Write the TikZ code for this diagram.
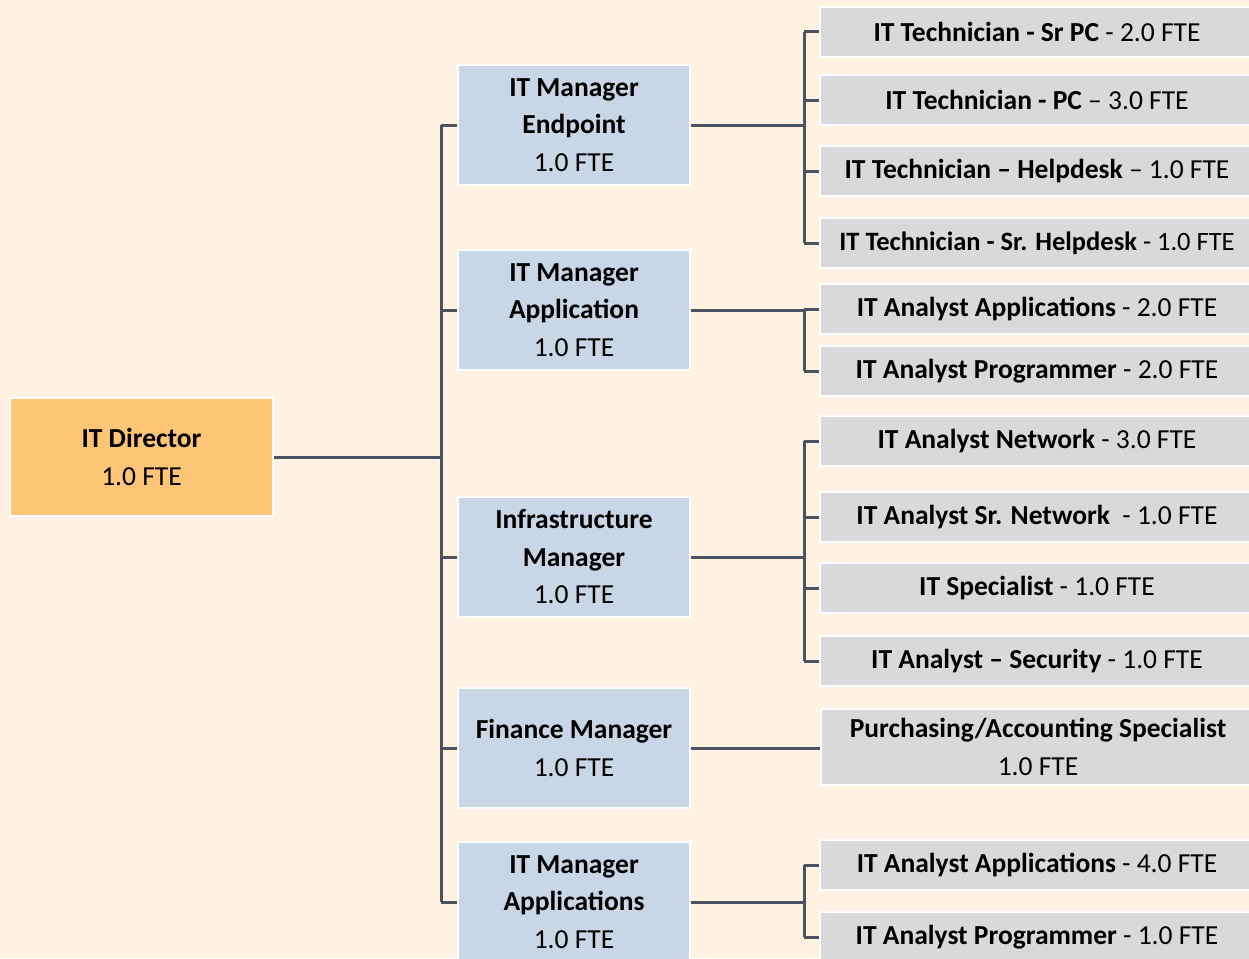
\documentclass[tikz,border=0pt]{standalone}
\usepackage{fontspec}
\setmainfont{Carlito}
\definecolor{bgc}{HTML}{FFF2E3}
\definecolor{dirc}{HTML}{FEC577}
\definecolor{mgrc}{HTML}{C9D6E5}
\definecolor{leafc}{HTML}{D9D9D9}
\definecolor{linec}{HTML}{4B5361}
\begin{document}
\begin{tikzpicture}[x=1pt,y=-1pt,
  box/.style={draw=white, line width=2pt, align=center, inner sep=0pt,
    font=\fontsize{27.5}{37.5}\selectfont, text=black},
  dirbox/.style={box, fill=dirc, minimum width=263pt, minimum height=118pt},
  mgrbox/.style={box, fill=mgrc, minimum width=232pt, minimum height=120pt},
  leafbox/.style={box, fill=leafc, minimum width=434pt, minimum height=50pt},
  conn/.style={draw=linec, line width=3pt}]
\clip (0,0) rectangle (1249,958);
\fill[bgc] (0,0) rectangle (1249,958);
\useasboundingbox (0,0) rectangle (1249,958);

\node[dirbox] (dir) at (141.5,457) {\textbf{IT Director}\\1.0 FTE};

\node[mgrbox] (ep) at (574,125) {\textbf{IT Manager}\\\textbf{Endpoint}\\1.0 FTE};
\node[mgrbox] (app) at (574,310) {\textbf{IT Manager}\\\textbf{Application}\\1.0 FTE};
\node[mgrbox] (inf) at (574,557) {\textbf{Infrastructure}\\\textbf{Manager}\\1.0 FTE};
\node[mgrbox] (fin) at (574,748) {\textbf{Finance Manager}\\1.0 FTE};
\node[mgrbox] (apps) at (574,902) {\textbf{IT Manager}\\\textbf{Applications}\\1.0 FTE};

\node[leafbox] (e1) at (1037,32) {\textbf{IT Technician - Sr PC} - 2.0 FTE};
\node[leafbox] (e2) at (1037,100) {\textbf{IT Technician - PC} – 3.0 FTE};
\node[leafbox] (e3) at (1037,171) {\textbf{IT Technician – Helpdesk} – 1.0 FTE};
\node[leafbox, font=\fontsize{26.5}{37.5}\selectfont] (e4) at (1037,243) {\textbf{IT Technician - Sr. Helpdesk} - 1.0 FTE};

\node[leafbox] (a1) at (1037,309) {\textbf{IT Analyst Applications} - 2.0 FTE};
\node[leafbox] (a2) at (1037,371) {\textbf{IT Analyst Programmer} - 2.0 FTE};

\node[leafbox] (i1) at (1037,441) {\textbf{IT Analyst Network} - 3.0 FTE};
\node[leafbox] (i2) at (1037,517) {\textbf{IT Analyst Sr. Network}\ \ - 1.0 FTE};
\node[leafbox] (i3) at (1037,588) {\textbf{IT Specialist} - 1.0 FTE};
\node[leafbox] (i4) at (1037,661) {\textbf{IT Analyst – Security} - 1.0 FTE};

\node[leafbox, minimum height=76pt] (f1) at (1038,747) {\textbf{Purchasing/Accounting Specialist}\\1.0 FTE};

\node[leafbox] (p1) at (1037,865) {\textbf{IT Analyst Applications} - 4.0 FTE};
\node[leafbox] (p2) at (1037,937) {\textbf{IT Analyst Programmer} - 1.0 FTE};

\coordinate (T) at (441,0);
\coordinate (B) at (804,0);

\draw[conn] (dir.east) -- (dir.east -| T);
\draw[conn] (ep.west -| T) -- (apps.west -| T);
\foreach \m in {ep,app,inf,fin,apps}{
  \draw[conn] (\m.west -| T) -- (\m.west);
}
% Endpoint group
\draw[conn] (ep.east) -- (ep.east -| B);
\draw[conn] (e1.west -| B) -- (e4.west -| B);
\foreach \c in {e1,e2,e3,e4}{\draw[conn] (\c.west -| B) -- (\c.west);}
% Application group
\draw[conn] (app.east) -- (app.east -| B);
\draw[conn] (a1.west -| B) -- (a2.west -| B);
\foreach \c in {a1,a2}{\draw[conn] (\c.west -| B) -- (\c.west);}
% Infrastructure group
\draw[conn] (inf.east) -- (inf.east -| B);
\draw[conn] (i1.west -| B) -- (i4.west -| B);
\foreach \c in {i1,i2,i3,i4}{\draw[conn] (\c.west -| B) -- (\c.west);}
% Finance
\draw[conn] (fin.east) -- (f1.west |- fin.east);
% Applications group
\draw[conn] (apps.east) -- (apps.east -| B);
\draw[conn] (p1.west -| B) -- (p2.west -| B);
\foreach \c in {p1,p2}{\draw[conn] (\c.west -| B) -- (\c.west);}
\end{tikzpicture}
\end{document}
